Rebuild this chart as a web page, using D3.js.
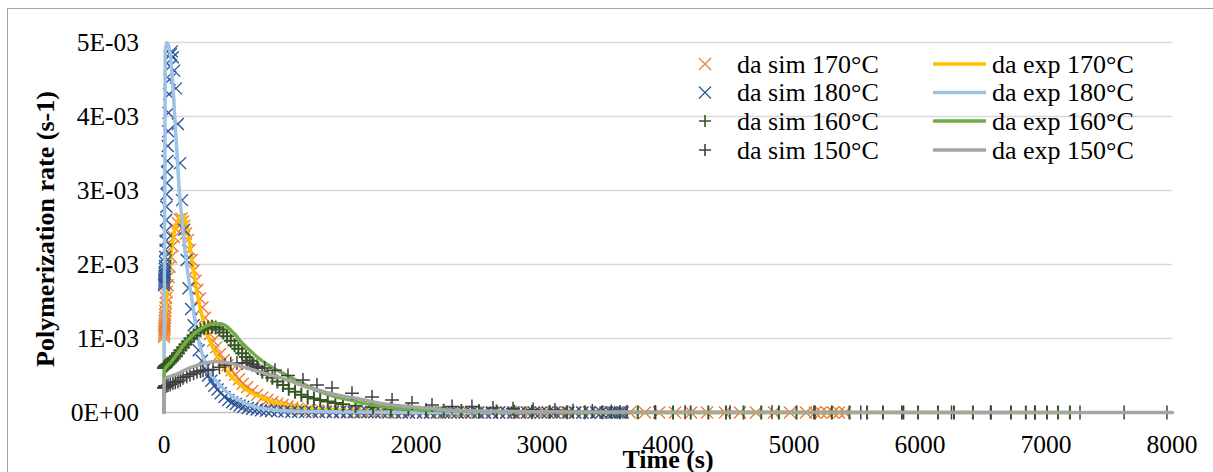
<!DOCTYPE html>
<html><head><meta charset="utf-8">
<script src="https://cdn.jsdelivr.net/npm/d3@7"></script>
<style>
body{margin:0;background:#fff;}
svg{display:block;}
text{font-family:"Liberation Serif","Times New Roman",serif;fill:#000;}
</style>
</head><body>
<svg id="chart" width="1213" height="472"></svg>
<script>
// ---- data (rate in units of 1E-03 s-1, time in s) ----
const xTicks = [0,1000,2000,3000,4000,5000,6000,7000,8000];
const yTicks = [0,1,2,3,4,5];
const yTickLabels = ["0E+00","1E-03","2E-03","3E-03","4E-03","5E-03"];
const simNames = ["da sim 170°C","da sim 180°C","da sim 160°C","da sim 150°C"];
const expNames = ["da exp 170°C","da exp 180°C","da exp 160°C","da exp 150°C"];

const sim170 = [[0,1.02],[1,1.05],[2,1.08],[3,1.11],[4,1.14],[5,1.17],[6,1.2],[7,1.24],[8,1.28],[9,1.32],[10,1.37],[12,1.42],[14,1.48],[17,1.55],[22,1.63],[28,1.72],[35,1.83],[45,1.97],[55,2.1],[68,2.25],[80,2.37],[95,2.48],[110,2.56],[125,2.61],[140,2.62],[150,2.58],[160,2.52],[175,2.42],[190,2.33],[205,2.2],[220,2.06],[235,1.92],[250,1.78],[265,1.66],[285,1.54],[305,1.42],[325,1.28],[345,1.16],[365,1.06],[390,0.97],[415,0.88],[445,0.79],[475,0.71],[505,0.64],[535,0.57],[565,0.51],[595,0.45],[625,0.39],[660,0.34],[700,0.29],[740,0.24],[780,0.2],[820,0.17],[860,0.14],[900,0.12],[940,0.1],[980,0.08],[1020,0.065],[1060,0.05],[1100,0.04],[1160,0.032],[1220,0.026],[1280,0.021],[1340,0.017],[1400,0.014],[1460,0.011],[1520,0.009],[1580,0.007],[1640,0.006],[1700,0.005],[1760,0.004],[1820,0.003],[1880,0.003],[1940,0.002],[2000,0.002],[2060,0.002],[2120,0.001],[2180,0.001],[2240,0.001],[2300,0.001],[2360,0],[2420,0],[2480,0],[2540,0],[2600,0],[2660,0],[2720,0],[2780,0],[2840,0],[2900,0],[2960,0],[3020,0],[3080,0],[3140,0],[3200,0],[3260,0],[3320,0],[3380,0],[3440,0],[3500,0],[3560,0],[3620,0],[3698,0],[3817,0],[3929,0],[4056,0],[4183,0],[4310,0],[4452,0],[4571,0],[4698,0],[4841,0],[4968,0],[5095,0],[5167,0],[5214,0],[5262,0],[5310,0],[5357,0],[5405,0]];

const sim180 = [[0,1.72],[1,1.75],[2,1.78],[3,1.81],[4,1.84],[5,1.87],[6,1.9],[7,1.94],[8,1.98],[9,2.03],[10,2.1],[12,2.2],[13,2.32],[15,2.45],[17,2.6],[19,2.78],[21,2.95],[23,3.1],[25,3.25],[27,3.4],[30,3.6],[33,3.8],[36,4.05],[40,4.3],[44,4.5],[48,4.68],[54,4.84],[62,4.88],[70,4.8],[80,4.62],[95,4.38],[110,3.9],[128,3.37],[143,2.87],[160,2.47],[180,2.06],[195,1.68],[215,1.4],[235,1.18],[255,1.0],[275,0.84],[300,0.7],[325,0.59],[350,0.5],[375,0.43],[400,0.36],[425,0.31],[450,0.26],[480,0.21],[510,0.17],[540,0.14],[570,0.115],[600,0.095],[630,0.078],[665,0.062],[700,0.05],[735,0.04],[770,0.032],[810,0.025],[850,0.02],[900,0.016],[955,0.013],[1010,0.011],[1065,0.009],[1120,0.008],[1175,0.007],[1230,0.006],[1285,0.005],[1340,0.004],[1395,0.004],[1450,0.003],[1505,0.003],[1560,0.002],[1615,0.002],[1670,0.002],[1725,0.002],[1780,0.001],[1835,0.001],[1890,0.001],[1945,0.001],[2000,0.001],[2055,0],[2110,0],[2165,0],[2220,0],[2275,0],[2330,0],[2385,0],[2440,0],[2495,0],[2550,0],[2605,0],[2660,0],[2715,0],[2770,0],[2825,0],[2880,0],[2935,0],[2990,0],[3045,0],[3100,0],[3155,0],[3210,0],[3265,0],[3320,0],[3375,0],[3430,0],[3470,0],[3510,0],[3545,0],[3575,0],[3600,0],[3620,0],[3640,0]];

const sim160 = [[0,0.6],[2,0.6],[4,0.61],[6,0.61],[8,0.62],[12,0.63],[18,0.64],[25,0.65],[35,0.66],[48,0.68],[62,0.7],[78,0.73],[95,0.76],[112,0.8],[130,0.84],[150,0.88],[170,0.92],[190,0.96],[210,1.0],[235,1.04],[262,1.08],[290,1.11],[320,1.14],[350,1.15],[380,1.16],[410,1.15],[440,1.12],[470,1.08],[500,1.03],[530,0.97],[560,0.91],[590,0.86],[620,0.8],[650,0.75],[680,0.7],[710,0.65],[745,0.6],[780,0.55],[820,0.51],[860,0.47],[900,0.42],[945,0.37],[990,0.32],[1040,0.28],[1090,0.24],[1140,0.21],[1190,0.19],[1240,0.17],[1300,0.15],[1360,0.13],[1420,0.11],[1520,0.09],[1660,0.07],[1800,0.05],[1940,0.04],[2080,0.03],[2220,0.025],[2360,0.02],[2500,0.016],[2640,0.013],[2780,0.01],[2920,0.008],[3060,0.006],[3200,0.005],[3340,0.004],[3480,0.003],[3620,0.002],[3760,0.002],[3900,0.001],[4040,0.001],[4180,0],[4320,0],[4460,0],[4600,0],[4740,0],[4880,0],[5020,0],[5160,0],[5300,0],[5440,0],[5580,0],[5706,0],[5857,0],[5984,0],[6143,0],[6270,0],[6420,0],[6563,0],[6722,0],[6840,0],[6913,0],[7008,0],[7095,0],[7190,0]];

const sim150 = [[0,0.33],[2,0.33],[4,0.34],[6,0.34],[8,0.35],[10,0.35],[14,0.36],[20,0.36],[32,0.37],[50,0.38],[71,0.4],[90,0.41],[111,0.42],[130,0.44],[151,0.47],[180,0.49],[206,0.51],[235,0.53],[262,0.55],[290,0.56],[310,0.57],[350,0.57],[389,0.58],[440,0.61],[484,0.64],[530,0.66],[579,0.67],[620,0.67],[659,0.67],[700,0.65],[738,0.62],[800,0.6],[881,0.57],[984,0.5],[1103,0.44],[1214,0.37],[1333,0.33],[1492,0.26],[1651,0.21],[1810,0.17],[1968,0.13],[2127,0.1],[2286,0.08],[2444,0.08],[2611,0.06],[2770,0.05],[2929,0.04],[3103,0.035],[3246,0.025],[3400,0.02],[3550,0.015],[3675,0.01],[3897,0.008],[4135,0.005],[4492,0.003],[4825,0.002],[5167,0.001],[5530,0],[5870,0],[6250,0],[6560,0],[6910,0],[7270,0],[7620,0],[7960,0]];

const exp170 = [[0,0],[2,1.0],[20,1.5],[40,1.9],[63,2.24],[90,2.5],[120,2.63],[150,2.67],[170,2.6],[190,2.43],[230,1.97],[270,1.55],[300,1.32],[341,1.07],[380,0.9],[421,0.76],[490,0.58],[550,0.46],[660,0.3],[778,0.2],[900,0.13],[1080,0.07],[1300,0.04],[1600,0.02],[2000,0.01],[3000,0],[5400,0]];

const exp180 = [[0,0],[10,4.9],[25,5.0],[48,4.86],[71,4.4],[87,3.95],[103,3.5],[119,3.05],[143,2.6],[160,2.3],[183,1.96],[222,1.52],[262,1.07],[310,0.75],[390,0.48],[460,0.34],[510,0.26],[600,0.16],[720,0.08],[850,0.04],[1000,0.02],[1300,0.01],[2000,0],[3650,0]];

const exp160 = [[0,0],[2,0.57],[50,0.67],[100,0.78],[150,0.9],[200,1.0],[250,1.08],[300,1.14],[350,1.18],[400,1.2],[450,1.2],[500,1.16],[560,1.06],[620,0.94],[680,0.84],[740,0.75],[800,0.67],[900,0.57],[1000,0.48],[1100,0.39],[1214,0.3],[1350,0.22],[1476,0.17],[1600,0.12],[1740,0.08],[1900,0.05],[2135,0.03],[2500,0.015],[3000,0.005],[4000,0],[7200,0]];

const exp150 = [[0,0],[2,0.45],[50,0.49],[100,0.52],[150,0.56],[200,0.6],[250,0.63],[300,0.66],[360,0.68],[420,0.69],[480,0.68],[540,0.66],[600,0.63],[660,0.6],[740,0.56],[840,0.51],[944,0.46],[1040,0.4],[1135,0.34],[1230,0.3],[1317,0.26],[1420,0.22],[1532,0.19],[1640,0.15],[1738,0.12],[1870,0.09],[2008,0.07],[2150,0.05],[2270,0.03],[2500,0.02],[3000,0.01],[4000,0.003],[8000,0]];

// ---- styles ----
const simColors = ["#ED7D31","#2F5597","#375623","#404040"];
const simShapes = ["x","x","+","+"];
const simWidths = [1.4,1.4,2,1.5];
const expColors = ["#FFC000","#9DC3E6","#70AD47","#A5A5A5"];

const svg = d3.select("#chart");
const x = d3.scaleLinear().domain([0,8000]).range([164,1172]);
const y = d3.scaleLinear().domain([0,5]).range([412.5,42.5]);

// outer border
svg.append("rect").attr("x",7.5).attr("y",8.5).attr("width",1220).attr("height",480)
  .attr("fill","#fff").attr("stroke","#A6A6A6").attr("stroke-width",1);

// gridlines
svg.append("g").selectAll("line").data(yTicks.filter(d=>d>0)).join("line")
  .attr("x1",x(0)).attr("x2",x(8000)).attr("y1",d=>y(d)).attr("y2",d=>y(d))
  .attr("stroke","#D9D9D9").attr("stroke-width",1.5);
// x axis line
svg.append("line").attr("x1",x(0)).attr("x2",x(8000)).attr("y1",y(0)).attr("y2",y(0))
  .attr("stroke","#BFBFBF").attr("stroke-width",1.5);

// y tick labels
svg.append("g").selectAll("text").data(yTicks).join("text")
  .attr("x",139).attr("y",d=>y(d)+8.5).attr("text-anchor","end")
  .style("font-size","25.5px").text((d,i)=>yTickLabels[i]);
// x tick labels
svg.append("g").selectAll("text").data(xTicks).join("text")
  .attr("x",d=>x(d)).attr("y",453).attr("text-anchor","middle")
  .style("font-size","25.5px").text(d=>d);

// axis titles
svg.append("text").attr("transform","translate(54,229) rotate(-90)")
  .attr("text-anchor","middle").style("font-size","26px").style("font-weight","bold")
  .text("Polymerization rate (s-1)");
svg.append("text").attr("x",668).attr("y",468).attr("text-anchor","middle")
  .style("font-size","26px").style("font-weight","bold").text("Time (s)");

const markerPath = (s, h) => s==="x"
  ? `M${-h},${-h}L${h},${h}M${-h},${h}L${h},${-h}`
  : `M${-h},0L${h},0M0,${-h}L0,${h}`;

const line = d3.line().x(d=>x(d[0])).y(d=>y(d[1])).curve(d3.curveMonotoneX);

const plot = svg.append("g");
const sims = [sim170, sim180, sim160, sim150];
const exps = [exp170, exp180, exp160, exp150];

for (let i=0;i<4;i++){
  const h = simShapes[i]==="x" ? 6 : 7;
  plot.append("g").selectAll("path").data(sims[i]).join("path")
    .attr("transform",d=>`translate(${x(d[0])},${y(d[1])})`)
    .attr("d",markerPath(simShapes[i],h))
    .attr("fill","none").attr("stroke",simColors[i]).attr("stroke-width",simWidths[i]);
  plot.append("path").datum(exps[i]).attr("d",line)
    .attr("fill","none").attr("stroke",expColors[i]).attr("stroke-width",3.5)
    .attr("stroke-linejoin","round").attr("stroke-linecap","round");
}

// legend
const rowsY = [64,92.5,121,150];
const leg = svg.append("g");
simNames.forEach((n,i)=>{
  leg.append("path").attr("transform",`translate(705,${rowsY[i]})`)
    .attr("d",markerPath(simShapes[i],6)).attr("fill","none")
    .attr("stroke",simColors[i]).attr("stroke-width",simShapes[i]==="x"?1.2:1.6);
  leg.append("text").attr("x",737).attr("y",rowsY[i]+8.5)
    .style("font-size","26px").text(n);
});
expNames.forEach((n,i)=>{
  leg.append("line").attr("x1",933).attr("x2",986).attr("y1",rowsY[i]).attr("y2",rowsY[i])
    .attr("stroke",expColors[i]).attr("stroke-width",3.5);
  leg.append("text").attr("x",992).attr("y",rowsY[i]+8.5)
    .style("font-size","26px").text(n);
});
</script>
</body></html>
